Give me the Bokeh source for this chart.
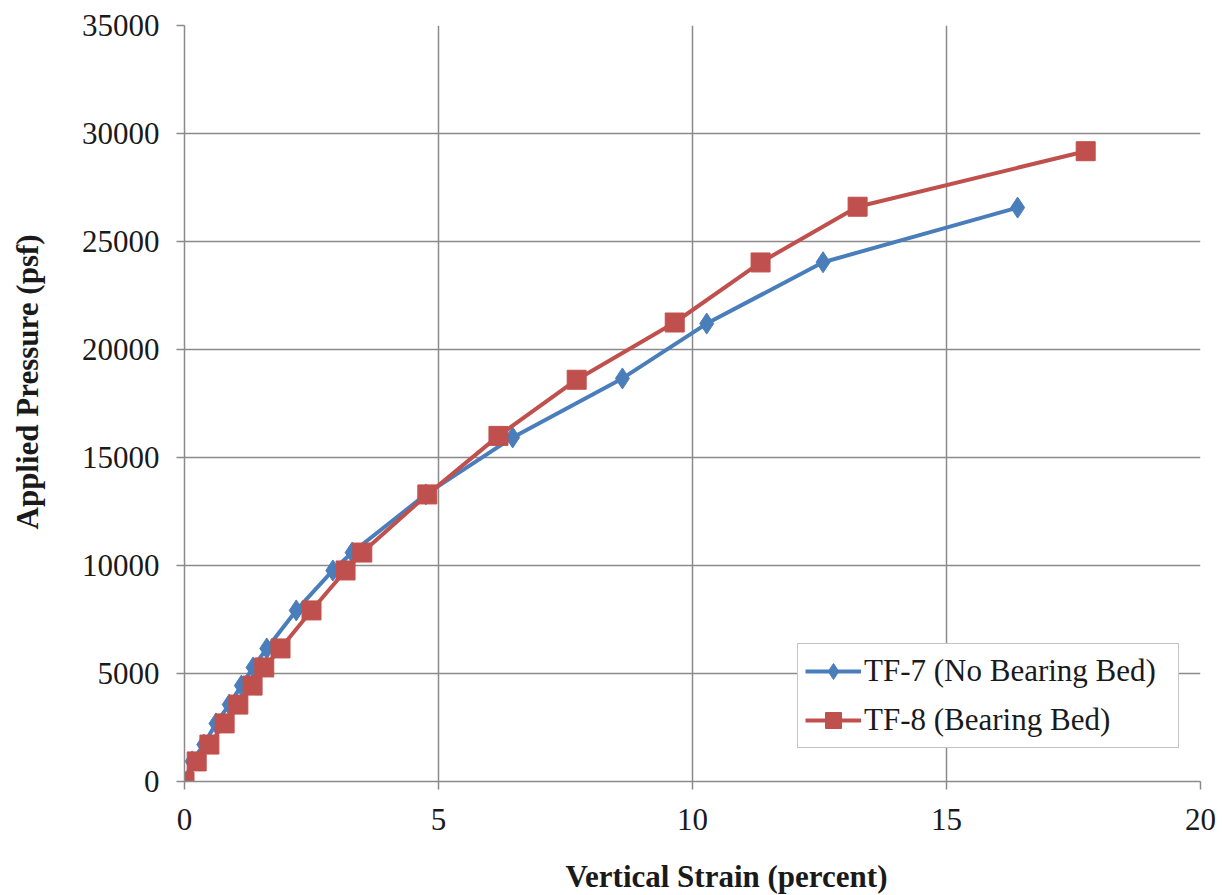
from bokeh.plotting import figure
from bokeh.models import Legend, LegendItem, FixedTicker, Title, ColumnDataSource
from bokeh.embed import file_html
from bokeh.resources import INLINE

# ---- data ----
tf7_strain = [0.0, 0.15, 0.38, 0.62, 0.88, 1.12, 1.35, 1.62, 2.20, 2.92, 3.30,
              4.75, 6.46, 8.62, 10.28, 12.57, 16.40]
tf7_pressure = [0, 930, 1710, 2690, 3560, 4440, 5280, 6160, 7920, 9770, 10600,
                13290, 15930, 18660, 21200, 24040, 26570]

tf8_strain = [0.0, 0.24, 0.49, 0.79, 1.06, 1.34, 1.57, 1.89, 2.50, 3.17, 3.50,
              4.78, 6.18, 7.72, 9.65, 11.34, 13.25, 17.74]
tf8_pressure = [0, 930, 1710, 2690, 3560, 4440, 5280, 6160, 7920, 9770, 10600,
                13290, 16000, 18600, 21250, 24030, 26610, 29180]

x_ticks = [0, 5, 10, 15, 20]
y_ticks = [0, 5000, 10000, 15000, 20000, 25000, 30000, 35000]

series_labels = ["TF-7 (No Bearing Bed)", "TF-8 (Bearing Bed)"]
x_title = "Vertical Strain (percent)"
y_title = "Applied Pressure (psf)"

BLUE = "#4A7EBB"
RED = "#C0504D"
GRID = "#8a8a8a"
FONT = "Times New Roman"
FONT_B = "Liberation Serif"

p = figure(width=1222, height=895, output_backend="svg", toolbar_location=None,
           x_range=(0, 20), y_range=(0, 35000),
           min_border_left=184, min_border_right=22,
           min_border_top=25, min_border_bottom=114)
p.outline_line_color = None
p.background_fill_color = "white"
p.border_fill_color = "white"

# grids
for g in (p.xgrid[0], p.ygrid[0]):
    g.grid_line_color = GRID
    g.grid_line_width = 1.5
p.xgrid[0].ticker = FixedTicker(ticks=x_ticks)
p.ygrid[0].ticker = FixedTicker(ticks=y_ticks)

# axes
for ax in (p.xaxis[0], p.yaxis[0]):
    ax.axis_line_color = GRID
    ax.axis_line_width = 1.5
    ax.major_tick_line_color = GRID
    ax.major_tick_line_width = 1.5
    ax.major_tick_out = 8
    ax.major_tick_in = 0
    ax.minor_tick_line_color = None
    ax.major_label_text_font = FONT
    ax.major_label_text_font_size = "31px"
    ax.major_label_text_color = "#1a1a1a"

p.xaxis[0].ticker = FixedTicker(ticks=x_ticks)
p.yaxis[0].ticker = FixedTicker(ticks=y_ticks)
p.xaxis[0].major_label_standoff = 19
p.yaxis[0].major_label_standoff = 17


def spacer(n):
    # blank title used only to reserve space in a side panel
    return Title(text=" ", text_font_size="1px", standoff=n)


# series
src7 = ColumnDataSource(dict(x=tf7_strain, y=tf7_pressure))
src8 = ColumnDataSource(dict(x=tf8_strain, y=tf8_pressure))

l7 = p.line("x", "y", source=src7, line_color=BLUE, line_width=4)
s7 = p.scatter("x", "y", source=src7, marker="diamond", size=21,
               fill_color=BLUE, line_color=BLUE)
l8 = p.line("x", "y", source=src8, line_color=RED, line_width=4)
s8 = p.scatter("x", "y", source=src8, marker="square", size=19,
               fill_color=RED, line_color=RED)

legend = Legend(items=[LegendItem(label=series_labels[0], renderers=[l7, s7]),
                       LegendItem(label=series_labels[1], renderers=[l8, s8])],
                location=(613, 33))
legend.label_text_font = FONT
legend.label_text_font_size = "31px"
legend.label_text_color = "#1a1a1a"
legend.glyph_width = 56
legend.glyph_height = 40
legend.label_height = 40
legend.label_width = 307
legend.label_standoff = 3
legend.spacing = 9
legend.padding = 7
legend.border_line_color = GRID
legend.border_line_width = 1.5
legend.background_fill_color = "white"
legend.background_fill_alpha = 1.0
p.add_layout(legend)

# axis titles, placed off-centre as in the reference
p.add_layout(spacer(21), "below")
xt = Title(text=x_title, align="left", offset=381, standoff=0,
           vertical_align="bottom", text_font=FONT_B, text_font_style="bold",
           text_font_size="31px", text_color="#1a1a1a")
p.add_layout(xt, "below")

p.add_layout(spacer(31), "left")
yt = Title(text=y_title, align="left", offset=252, standoff=0,
           vertical_align="bottom", text_font=FONT_B, text_font_style="bold",
           text_font_size="31px", text_color="#1a1a1a")
p.add_layout(yt, "left")

open("out.html", "w").write(file_html(p, INLINE))
